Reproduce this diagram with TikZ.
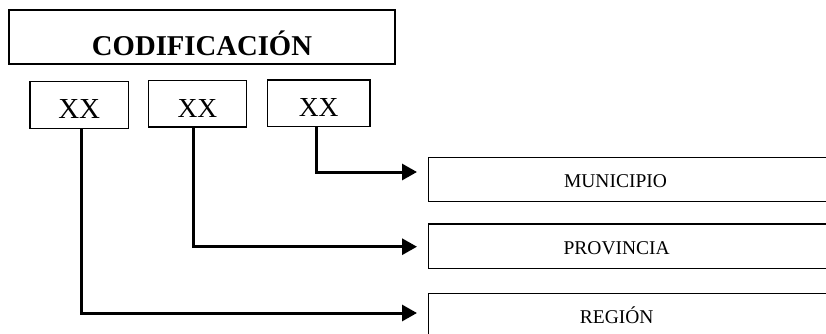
\documentclass[tikz,border=0pt]{standalone}
\usepackage{fontspec}
\setmainfont{Liberation Serif}
\usetikzlibrary{arrows.meta}
\tikzset{
  titlebox/.style={draw, line width=1.6pt, inner sep=0pt, minimum width=386pt, minimum height=54pt,
    text height=36pt, text depth=0pt, font=\fontsize{28.7}{30}\selectfont\bfseries},
  codebox/.style={draw, line width=1.5pt, inner sep=0pt, minimum height=46.6pt,
    text height=27pt, text depth=0pt, font=\fontsize{27.5}{30}\selectfont},
  levelbox/.style={draw, line width=1.5pt, inner sep=0pt, minimum width=450pt, minimum height=44pt, anchor=north west},
  leveltext/.style={anchor=base, inner sep=0pt, font=\fontsize{19.5}{22}\selectfont},
  conn/.style={line width=3pt, -{Triangle[length=15pt,width=16pt]}}
}
\begin{document}
\begin{tikzpicture}[x=1pt,y=-1pt]
\useasboundingbox (0,0) rectangle (826,333);
\clip (0,0) rectangle (826,333);
\node[titlebox] (title) at (202,37) {CODIFICACIÓN};
\node[codebox, minimum width=98.3pt, font=\fontsize{29}{30}\selectfont] (b1) at (79.2,105) {XX};
\node[codebox, minimum width=98.4pt] (b2) at (197.5,103.7) {XX};
\node[codebox, minimum width=102.7pt] (b3) at (318.7,103.3) {XX};
\node[levelbox] (mun) at (427.7,156.7) {};
\node[levelbox, minimum height=44.7pt] (prov) at (427.7,223) {};
\node[levelbox] (reg) at (427.7,292.7) {};
\node[leveltext] (muntext) at (615.5,187.3) {MUNICIPIO};
\node[leveltext] (provtext) at (616.7,254.3) {PROVINCIA};
\node[leveltext] (regtext) at (616.7,323.3) {REGIÓN};
\coordinate (e3) at (417,172);
\coordinate (e2) at (417,246.7);
\coordinate (e1) at (417,313);
\draw[conn] ([xshift=-2pt]b3.south) |- (e3);
\draw[conn] ([xshift=-4.2pt]b2.south) |- (e2);
\draw[conn] ([xshift=2.5pt]b1.south) |- (e1);
\end{tikzpicture}
\end{document}
